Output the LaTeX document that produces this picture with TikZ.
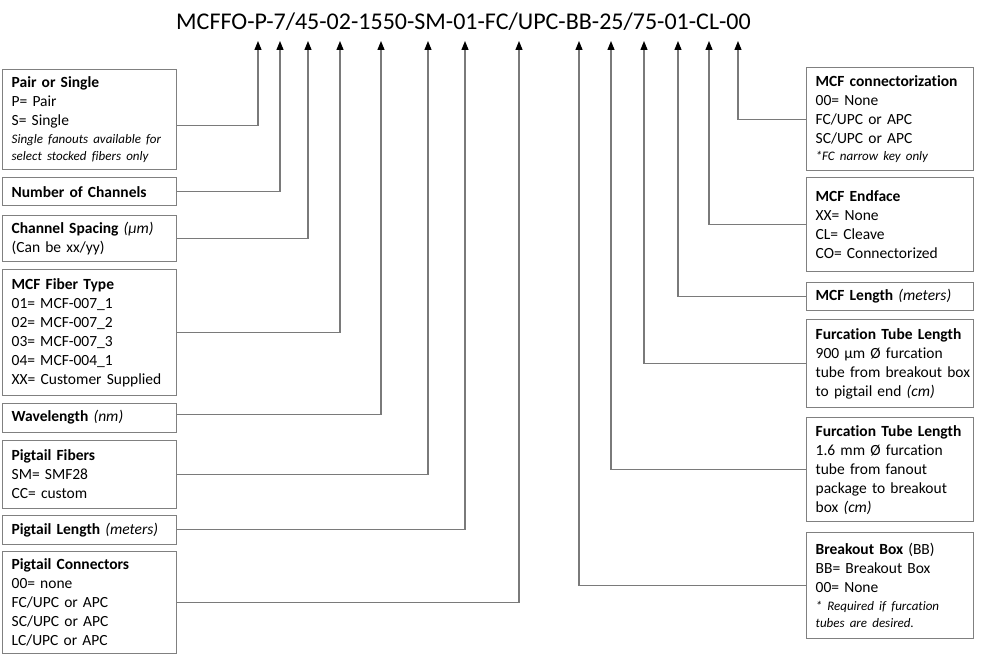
\documentclass[tikz,border=0pt]{standalone}
\usepackage{fontspec}
\setmainfont{Carlito}[Ligatures=NoCommon]
\usetikzlibrary{arrows.meta,positioning,calc}
\definecolor{lgray}{HTML}{7A7A7A}
\definecolor{bgray}{HTML}{808080}
\newcommand\smit{\fontsize{13}{17.5}\selectfont\itshape}
\tikzset{
  >={Triangle[length=9pt,width=7pt,color=black]},
  % boxes
  cbox/.style={draw=bgray,line width=1.3pt,anchor=north west,align=left,
               inner xsep=9pt,inner ysep=2pt,font=\fontsize{15.5}{19}\selectfont},
  lbox/.style={cbox,text width=156pt},
  rbox/.style={cbox,text width=149pt},
  % lines
  cline/.style={->,draw=lgray,line width=1.2pt},
  code/.style={font=\fontsize{24}{28}\selectfont,inner sep=0pt},
}
\begin{document}
\begin{tikzpicture}[x=1pt,y=-1pt]
  \fill[white] (0,0) rectangle (985,660);
  \node[code] (pn) at (463.5,22) {MCFFO-P-7/45-02-1550-SM-01-FC/UPC-BB-25/75-01-CL-00};
  \foreach \n/\x in {1/258,2/280,3/308,4/340,5/381,6/428,7/465,8/519,
                     9/579,10/611,11/644,12/678,13/709,14/738}
    \coordinate (t\n) at (\x,41);
  % left side
  \node[lbox,minimum height=100] (pair) at (2,69) {\textbf{Pair or Single}\\P= Pair\\S= Single\par
    {\smit Single fanouts available for\\select stocked fibers only\par}};
  \node[lbox,minimum height=28] (nch) at (2,177) {\textbf{Number of Channels}};
  \node[lbox,minimum height=46] (csp) at (2,215) {\textbf{Channel Spacing} \textit{(µm)}\\(Can be xx/yy)};
  \node[lbox,minimum height=126] (ftype) at (2,269) {\textbf{MCF Fiber Type}\\01= MCF-007\_1\\02= MCF-007\_2\\
    03= MCF-007\_3\\04= MCF-004\_1\\XX= Customer Supplied};
  \node[lbox,minimum height=29] (wl) at (2,402.5) {\textbf{Wavelength} \textit{(nm)}};
  \node[lbox,minimum height=68] (pfib) at (2,439.5) {\textbf{Pigtail Fibers}\\SM= SMF28\\CC= custom};
  \node[lbox,minimum height=29] (plen) at (2,514.5) {\textbf{Pigtail Length} \textit{(meters)}};
  \node[lbox,minimum height=102] (pcon) at (2,551) {\textbf{Pigtail Connectors}\\00= none\\FC/UPC or APC\\
    SC/UPC or APC\\LC/UPC or APC};
  % right side
  \node[rbox,minimum height=103] (mcon) at (806,67) {\textbf{MCF connectorization}\\00= None\\FC/UPC or APC\\
    SC/UPC or APC\par{\smit *FC narrow key only\par}};
  \node[rbox,minimum height=94] (mend) at (806,177) {\textbf{MCF Endface}\\XX= None\\CL= Cleave\\CO= Connectorized};
  \node[rbox,minimum height=28] (mlen) at (806,282) {\textbf{MCF Length} \textit{(meters)}};
  \node[rbox,minimum height=88] (ft9) at (806,319) {\mbox{\textbf{Furcation Tube Length}}\\900 µm Ø furcation\\
    \mbox{tube from breakout box}\\to pigtail end \textit{(cm)}};
  \node[rbox,minimum height=104] (ft16) at (806,417) {\mbox{\textbf{Furcation Tube Length}}\\1.6 mm Ø furcation\\
    tube from fanout\\package to breakout\\box \textit{(cm)}};
  \node[rbox,minimum height=106] (bbox) at (806,532) {\textbf{Breakout Box} (BB)\\BB= Breakout Box\\00= None\par
    {\smit * Required if furcation\\tubes are desired.\par}};
  % connectors
  \draw[cline] ([yshift=-6pt]pair.east) -| (t1);
  \draw[cline] (nch.east) -| (t2);
  \draw[cline] (csp.east) -| (t3);
  \draw[cline] (ftype.east) -| (t4);
  \draw[cline] ([yshift=3pt]wl.east) -| (t5);
  \draw[cline] (pfib.east) -| (t6);
  \draw[cline] (plen.east) -| (t7);
  \draw[cline] (pcon.east) -| (t8);
  \draw[cline] (bbox.west) -| (t9);
  \draw[cline] (ft16.west) -| (t10);
  \draw[cline] (ft9.west) -| (t11);
  \draw[cline] (mlen.west) -| (t12);
  \draw[cline] (mend.west) -| (t13);
  \draw[cline] (mcon.west) -| (t14);
\end{tikzpicture}
\end{document}
